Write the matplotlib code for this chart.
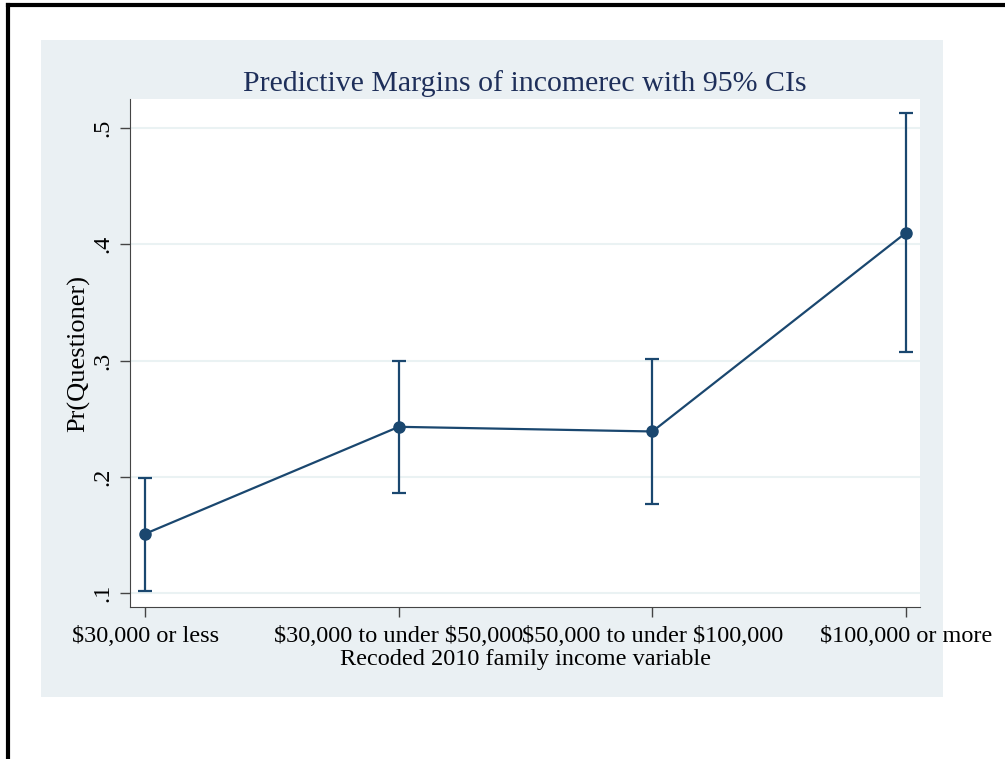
import matplotlib.pyplot as plt
from matplotlib.patches import Rectangle
from matplotlib.lines import Line2D

categories = ['$30,000 or less', '$30,000 to under $50,000',
              '$50,000 to under $100,000', '$100,000 or more']
margins = [0.151, 0.243, 0.239, 0.410]
ci_low = [0.102, 0.186, 0.177, 0.307]
ci_high = [0.199, 0.300, 0.301, 0.513]
yticks = [0.1, 0.2, 0.3, 0.4, 0.5]
ytick_labels = ['.1', '.2', '.3', '.4', '.5']

plt.rcParams['font.family'] = ['Liberation Serif', 'DejaVu Serif']
plt.rcParams['text.parse_math'] = False  # keep the dollar signs literal
navy = '#1a476f'
W, H = 1005, 759

fig = plt.figure(figsize=(10.05, 7.59), dpi=100)

# light panel behind the graph (Stata style)
fig.patches.append(Rectangle((41 / W, 1 - 697 / H), (943 - 41) / W, (697 - 40) / H,
                             transform=fig.transFigure, facecolor='#eaf0f3',
                             edgecolor='none', zorder=-5))
# border of the screenshot (left and top only)
fig.lines.append(Line2D([8 / W, 8 / W], [0, 1 - 5 / H], transform=fig.transFigure,
                        color='black', lw=3))
fig.lines.append(Line2D([8 / W, 1], [1 - 5 / H, 1 - 5 / H], transform=fig.transFigure,
                        color='black', lw=3))

ax = fig.add_axes([130 / W, 1 - 607 / H, (920 - 130) / W, (607 - 99) / H])
ax.set_facecolor('white')

x = range(1, len(categories) + 1)
yerr = [[m - lo for m, lo in zip(margins, ci_low)],
        [hi - m for m, hi in zip(margins, ci_high)]]
ax.errorbar(x, margins, yerr=yerr, color=navy, lw=1.6, marker='o', ms=8,
            capsize=5, capthick=1.6, elinewidth=1.6)

ax.set_xlim(0.94, 4.055)
ax.set_ylim(0.088, 0.525)
ax.set_xticks(list(x))
ax.set_xticklabels(categories, fontsize=17.5)
ax.set_yticks(yticks)
ax.set_yticklabels(ytick_labels, fontsize=17.5, rotation=90, va='center')
ax.yaxis.grid(True, color='#eaf2f3', lw=1.5)
ax.set_axisbelow(True)
ax.tick_params(length=7, width=1, color='#444444')
ax.tick_params(axis='x', pad=6.5)
ax.tick_params(axis='y', pad=5)

for side in ['top', 'right']:
    ax.spines[side].set_visible(False)
for side in ['left', 'bottom']:
    ax.spines[side].set_color('#444444')

ax.set_title('Predictive Margins of incomerec with 95% CIs', fontsize=21.5,
             color='#1e2f5a', pad=6)
ax.set_xlabel('Recoded 2010 family income variable', fontsize=17.5, labelpad=1.5)
ax.set_ylabel('Pr(Questioner)', fontsize=19, labelpad=1.5)

fig.savefig('out.png', dpi=100)
